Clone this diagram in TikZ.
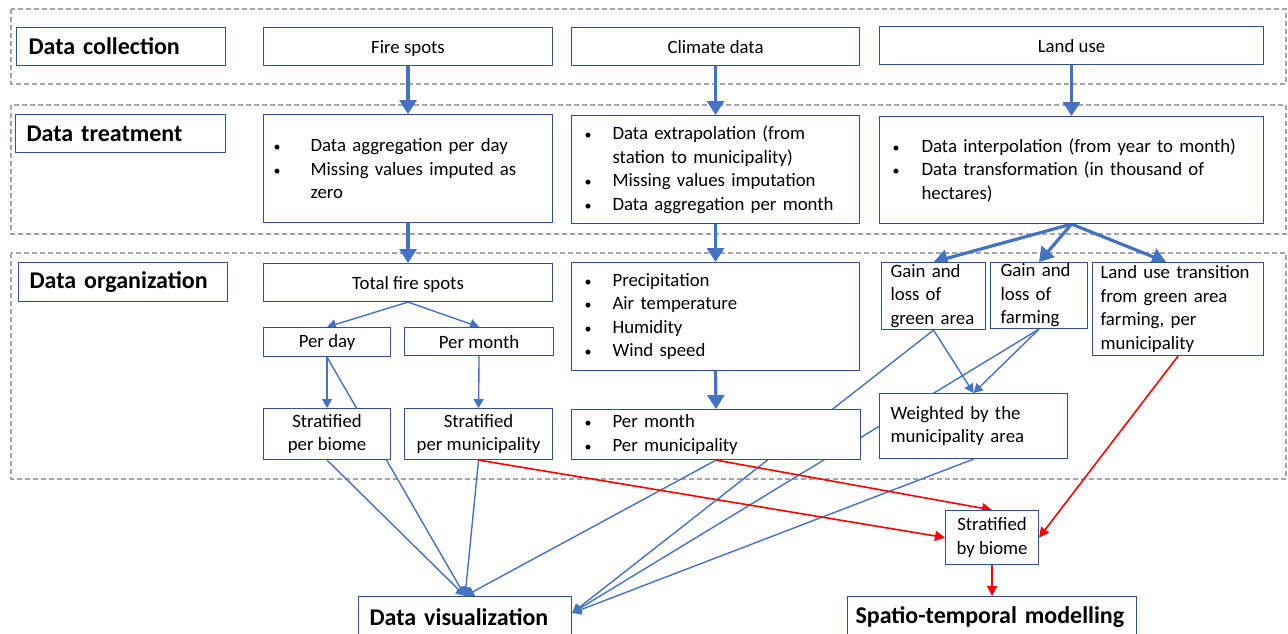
\documentclass[tikz,border=0pt]{standalone}
\usepackage{fontspec}
\setmainfont{Carlito}
\usetikzlibrary{arrows.meta,backgrounds}
\definecolor{boxblue}{RGB}{47,82,143}
\definecolor{lineblue}{RGB}{68,114,196}
\definecolor{groupgray}{RGB}{165,165,165}
\newcommand{\itm}[2][28pt]{\makebox[#1][l]{\fontsize{14}{14}\selectfont\textbullet}#2}
\tikzset{
  box/.style={draw=boxblue, line width=1.1pt, fill=white, anchor=north west,
    inner ysep=0pt, font=\fontsize{18.8}{23.5}\selectfont},
  cbox/.style={box, align=center},
  lbox/.style={box, align=left},
  headbox/.style={lbox, font=\fontsize{24}{28}\selectfont\bfseries},
  group/.style={draw=groupgray, line width=1.1pt, dash pattern=on 5pt off 3pt},
  fatarrow/.style={draw=lineblue, line width=3.2pt, -{Triangle[length=14pt,width=17pt]}},
  thinarrow/.style={draw=lineblue, line width=1.4pt, -{Triangle[length=9pt,width=10pt]}},
  redarrow/.style={draw=red, line width=1.6pt, -{Triangle[length=10pt,width=10pt]}},
}
\begin{document}
\begin{tikzpicture}[x=1pt,y=-1pt]
  \useasboundingbox (0,0) rectangle (1288,633);
  \clip (0,0) rectangle (1288,633);

  % Define nodes
  \node[headbox, minimum width=209, minimum height=38, inner xsep=12, text width=185] (coll) at (16,27) {Data collection};
  \node[headbox, minimum width=210, minimum height=38, inner xsep=11, text width=188] (treat) at (15,114) {Data treatment};
  \node[headbox, minimum width=209, minimum height=39, inner xsep=11, text width=187] (org) at (18,262) {Data organization};

  \node[cbox, minimum width=289, minimum height=38, text depth=0pt] (fire) at (263,27) {Fire spots};
  \node[cbox, minimum width=288, minimum height=38] (climate) at (571,27) {Climate data};
  \node[cbox, minimum width=384, minimum height=38] (land) at (879,26) {Land use};

  \node[lbox, minimum width=289, minimum height=108, inner xsep=10, text width=269] (firetr) at (263,114)
    {\itm[37pt]{Data aggregation per day}\\\itm[37pt]{Missing values imputed as}\\\hspace*{37pt}zero};
  \node[lbox, minimum width=288, minimum height=108, inner xsep=13, text width=262] (climtr) at (571,115)
    {\itm{Data extrapolation (from}\\\hspace*{28pt}station to municipality)\\\itm{Missing values imputation}\\\itm{Data aggregation per month}};
  \node[lbox, minimum width=384, minimum height=107, inner xsep=13, text width=358] (landtr) at (879,116)
    {\itm[29pt]{Data interpolation (from year to month)}\\\itm[29pt]{Data transformation (in thousand of}\\\hspace*{29pt}hectares)};

  \node[cbox, minimum width=289, minimum height=38, text depth=0pt] (total) at (263,263) {Total fire spots};
  \node[cbox, minimum width=127, minimum height=29] (perday) at (263,327) {Per day};
  \node[cbox, minimum width=149, minimum height=28] (permonth) at (404,327) {Per month};
  \node[cbox, minimum width=127, minimum height=51] (biome) at (263,408) {Stratified\\per biome};
  \node[cbox, minimum width=148, minimum height=51] (muni) at (404,408) {Stratified\\per municipality};

  \node[lbox, minimum width=288, minimum height=108, inner xsep=13, text width=262] (climvar) at (571,262)
    {\itm{Precipitation}\\\itm{Air temperature}\\\itm{Humidity}\\\itm{Wind speed}};
  \node[lbox, minimum width=289, minimum height=50, inner xsep=13, text width=263] (climpm) at (571,409)
    {\itm{Per month}\\\itm{Per municipality}};

  \node[lbox, minimum width=104, minimum height=67, inner xsep=9, text width=86] (green) at (881,262) {Gain and\\loss of\\green area};
  \node[lbox, minimum width=97, minimum height=66, inner xsep=10, text width=77] (farming) at (990,262) {Gain and\\loss of\\farming};
  \node[lbox, minimum width=171, minimum height=93, inner xsep=8, text width=155] (trans) at (1092,262)
    {Land use transition\\from green area\\farming, per\\municipality};
  \node[lbox, minimum width=188, minimum height=65, inner xsep=11, text width=166] (weighted) at (879,393)
    {Weighted by the\\municipality area};

  \node[cbox, minimum width=93, minimum height=54] (stbiome) at (945,510) {Stratified\\by biome};
  \node[headbox, minimum width=213, minimum height=42, inner xsep=11, text width=191] (dataviz) at (358,596) {Data visualization};
  \node[headbox, minimum width=289, minimum height=42, inner xsep=8, text width=273] (spatio) at (847,596) {Spatio-temporal modelling};
  \coordinate (vizright) at ([yshift=-17pt]dataviz.north east);

  % Draw groups and edges
  \begin{scope}[on background layer]
    \draw[group] (11,9) rectangle (1286,84);
    \draw[group] (11,105) rectangle (1286,234);
    \draw[group] (11,253) rectangle (1286,479);

    \draw[fatarrow] (fire.south) -- (firetr.north);
    \draw[fatarrow] (climate.south) -- (climtr.north);
    \draw[fatarrow] (land.south) -- (landtr.north);
    \draw[fatarrow] (firetr.south) -- (total.north);
    \draw[fatarrow] (climtr.south) -- (climvar.north);
    \draw[fatarrow] (landtr.south) -- (green.north);
    \draw[fatarrow] (landtr.south) -- (farming.north);
    \draw[fatarrow] (landtr.south) -- ([xshift=-12pt]trans.north);
    \draw[fatarrow] (climvar.south) -- (climpm.north);

    \draw[thinarrow] (total.south) -- (perday.north);
    \draw[thinarrow] (total.south) -- (permonth.north);
    \draw[thinarrow] (perday.south) -- (biome.north);
    \draw[thinarrow] (permonth.south) -- (muni.north);
    \draw[thinarrow] (perday.south) -- (dataviz.north);
    \draw[thinarrow] (biome.south) -- (dataviz.north);
    \draw[thinarrow] (muni.south) -- (dataviz.north);
    \draw[thinarrow] (climpm.south) -- (dataviz.north);
    \draw[thinarrow] (green.south) -- (weighted.north);
    \draw[thinarrow] (farming.south) -- (weighted.north);
    \draw[thinarrow] (green.south) -- (vizright);
    \draw[thinarrow] (farming.south) -- (vizright);
    \draw[thinarrow] (weighted.south) -- (vizright);

    \draw[redarrow] (muni.south) -- (stbiome.west);
    \draw[redarrow] (climpm.south) -- (stbiome.north);
    \draw[redarrow] (trans.south) -- (stbiome.east);
    \draw[redarrow] (stbiome.south) -- (spatio.north);
  \end{scope}
\end{tikzpicture}
\end{document}
